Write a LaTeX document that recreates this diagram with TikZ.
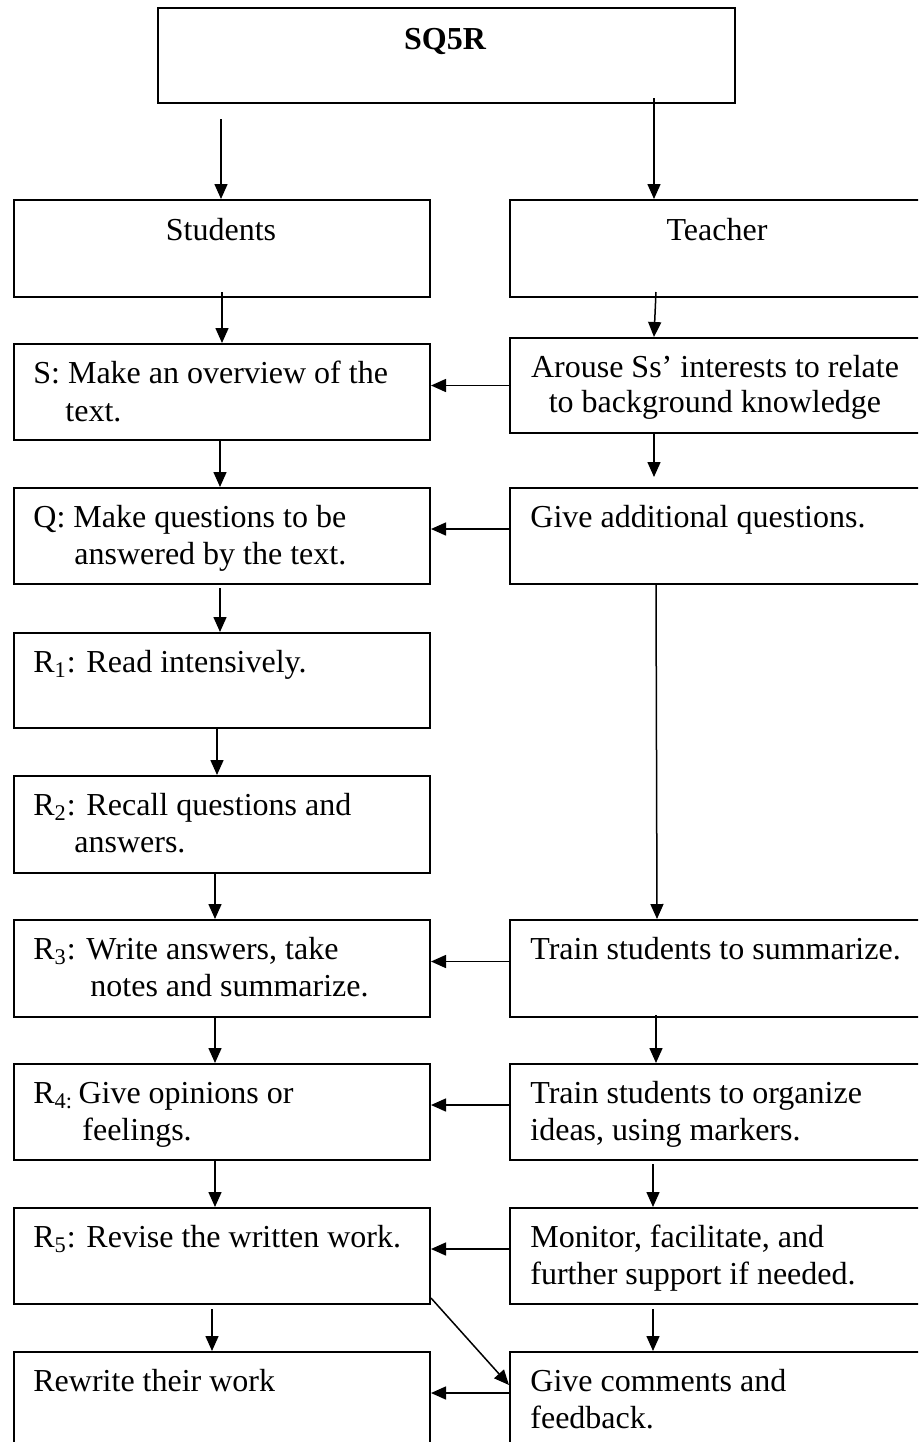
\documentclass[tikz,border=0pt]{standalone}
\usepackage{fontspec}
\setmainfont{Liberation Serif}
\usetikzlibrary{arrows.meta}
\tikzset{
  box/.style={draw, line width=1pt, rectangle, inner sep=0pt, anchor=north west},
  lbox/.style={box, minimum width=208pt},
  rbox/.style={box, minimum width=206pt},
  txt/.style={inner sep=0pt, anchor=base west, font=\fontsize{16pt}{18.5pt}\selectfont},
  ctxt/.style={txt, anchor=base},
  arr/.style={line width=0.75pt, -{Triangle[length=7.5pt,width=6.5pt]}}
}
\begin{document}
\begin{tikzpicture}[x=0.5pt,y=-0.5pt]
\useasboundingbox (0,0) rectangle (918,1442);
\clip (0,0) rectangle (918,1442);
% boxes
\node[box, minimum width=288.5pt, minimum height=47.5pt] (top) at (157,7) {};
\node[lbox, minimum height=48.5pt] (stu) at (13,199) {};
\node[rbox, minimum height=48.5pt] (tea) at (509,199) {};
\node[lbox, minimum height=48pt] (S) at (13,343) {};
\node[rbox, minimum height=47.5pt] (A) at (509,337) {};
\node[lbox, minimum height=48pt] (Q) at (13,487) {};
\node[rbox, minimum height=48pt] (G) at (509,487) {};
\node[lbox, minimum height=47.5pt] (R1) at (13,632) {};
\node[lbox, minimum height=48.5pt] (R2) at (13,775) {};
\node[lbox, minimum height=48.5pt] (R3) at (13,919) {};
\node[rbox, minimum height=48.5pt] (TS) at (509,919) {};
\node[lbox, minimum height=48pt] (R4) at (13,1063) {};
\node[rbox, minimum height=48pt] (TO) at (509,1063) {};
\node[lbox, minimum height=48pt] (R5) at (13,1207) {};
\node[rbox, minimum height=48pt] (M) at (509,1207) {};
\node[lbox, minimum height=54.5pt] (RW) at (13,1351) {};
\node[rbox, minimum height=54.5pt] (C) at (509,1351) {};
% texts
\node[ctxt, font=\fontsize{16pt}{18.5pt}\selectfont\bfseries] (tTop) at (445,49) {SQ5R};
\node[ctxt] (tStu) at (221,240) {Students};
\node[ctxt] (tTea) at (717,240) {Teacher};
\node[txt] (tS1) at (33,383) {S: Make an overview of the};
\node[txt] (tS2) at (65,421) {text.};
\node[ctxt] (tA1) at (715,377) {Arouse Ss’ interests to relate};
\node[ctxt] (tA2) at (715,412) {to background knowledge};
\node[txt] (tQ1) at (33,527) {Q: Make questions to be};
\node[txt] (tQ2) at (74,564) {answered by the text.};
\node[txt] (tG1) at (530,527) {Give additional questions.};
\node[txt] (tR11) at (33,672) {R\textsubscript{1}: Read intensively.};
\node[txt] (tR21) at (33,815) {R\textsubscript{2}: Recall questions and};
\node[txt] (tR22) at (74,852) {answers.};
\node[txt] (tR31) at (33,959) {R\textsubscript{3}: Write answers, take};
\node[txt] (tR32) at (90,996) {notes and summarize.};
\node[txt] (tTS1) at (530,959) {Train students to summarize.};
\node[txt] (tR41) at (33,1103) {R\textsubscript{4:}\,Give opinions or};
\node[txt] (tR42) at (82,1140) {feelings.};
\node[txt] (tTO1) at (530,1103) {Train students to organize};
\node[txt] (tTO2) at (530,1140) {ideas, using markers.};
\node[txt] (tR51) at (33,1247) {R\textsubscript{5}: Revise the written work.};
\node[txt] (tM1) at (530,1247) {Monitor, facilitate, and};
\node[txt] (tM2) at (530,1284) {further support if needed.};
\node[txt] (tRW1) at (33,1391) {Rewrite their work};
\node[txt] (tC1) at (530,1391) {Give comments and};
\node[txt] (tC2) at (530,1428) {feedback.};
% connectors
\coordinate (c1) at (221,119);
\coordinate (xr) at (654,0);
\draw[arr] (c1) -- (c1 |- stu.north);
\draw[arr] ([yshift=3pt]top.south -| xr) -- (tea.north -| xr);
\draw[arr] ([yshift=3pt]stu.south) -- (S.north);
\draw[arr] ([xshift=1pt,yshift=3pt]tea.south -| xr) -- (A.north -| xr);
\draw[arr] (A.west) -- (A.west -| S.east);
\draw[arr] ([xshift=-1pt]S.south) -- ([xshift=-1pt]Q.north);
\draw[arr] (A.south -| xr) -- ([yshift=5pt]G.north -| xr);
\draw[arr] ([yshift=3.5pt]G.west) -- ([yshift=3.5pt]G.west -| Q.east);
\draw[arr] ([xshift=-1pt,yshift=-1.5pt]Q.south) -- ([xshift=-1pt]R1.north);
\draw[arr] ([xshift=1pt,yshift=0.5pt]G.south -| xr) -- ([xshift=1.5pt]TS.north -| xr);
\draw[arr] ([xshift=-2.5pt]R1.south) -- ([xshift=-2.5pt]R2.north);
\draw[arr] ([xshift=-3.5pt]R2.south) -- ([xshift=-3.5pt]R3.north);
\draw[arr] ([yshift=3.5pt]TS.west) -- ([yshift=3.5pt]TS.west -| R3.east);
\draw[arr] ([xshift=-3.5pt]R3.south) -- ([xshift=-3.5pt]R4.north);
\draw[arr] ([xshift=1pt,yshift=1.5pt]TS.south -| xr) -- ([xshift=1pt]TO.north -| xr);
\draw[arr] ([yshift=3.5pt]TO.west) -- ([yshift=3.5pt]TO.west -| R4.east);
\draw[arr] ([xshift=-3.5pt]R4.south) -- ([xshift=-3.5pt]R5.north);
\draw[arr] ([xshift=-0.5pt,yshift=-1.5pt]TO.south -| xr) -- ([xshift=-0.5pt]M.north -| xr);
\draw[arr] ([yshift=3.5pt]M.west) -- ([yshift=3.5pt]M.west -| R5.east);
\draw[arr] ([xshift=-5pt,yshift=-2pt]R5.south) -- ([xshift=-5pt]RW.north);
\draw[arr] ([xshift=-0.5pt,yshift=-2pt]M.south -| xr) -- ([xshift=-0.5pt]C.north -| xr);
\draw[arr] ([yshift=3.5pt]R5.south east) -- ([yshift=-17pt]C.north west);
\draw[arr] ([yshift=-21pt]C.north west) -- ([yshift=-21pt]C.north west -| RW.east);
\end{tikzpicture}
\end{document}
